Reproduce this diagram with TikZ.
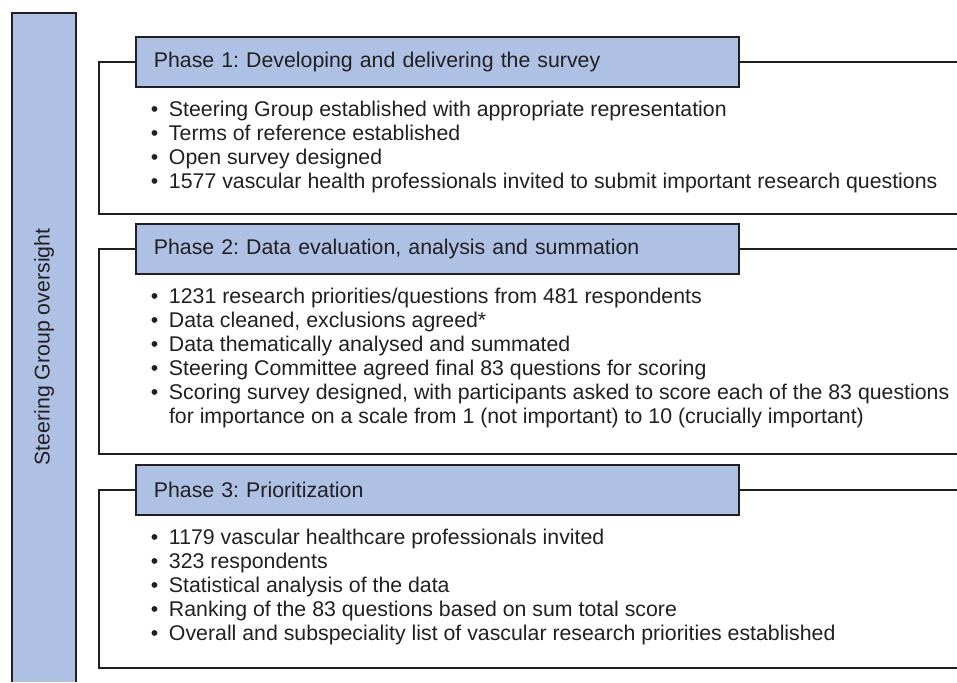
\documentclass[tikz,border=0pt]{standalone}
\usepackage{fontspec}
\setmainfont{Liberation Sans}
\usetikzlibrary{positioning}

\definecolor{phaseblue}{RGB}{174,193,229}
\definecolor{inkgray}{RGB}{35,31,32}

\newcommand\bul{\textbullet\hspace{0.5em}}
\frenchspacing

\tikzset{
  headbox/.style={draw=inkgray, fill=phaseblue, anchor=north west,
    text width=567pt, inner xsep=18pt, minimum height=50pt, align=left},
  itemlist/.style={anchor=north west, align=left, inner sep=0pt},
  frameline/.style={draw=inkgray, line width=1.8pt}
}

\begin{document}
\begin{tikzpicture}[x=1pt,y=-1pt, line width=1.8pt, text=inkgray,
    font=\fontsize{21.3}{24}\selectfont]
  \useasboundingbox (0,0) rectangle (957,682);

  % oversight bar on the left
  \fill[phaseblue] (12,13) rectangle (76,682);
  \draw[frameline] (12,682) -- (12,13) -- (76,13) -- (76,682);
  \node[rotate=90] (sg) at (44,347) {Steering Group oversight};

  % phase 1
  \node[headbox] (p1) at (135,36) {Phase 1: Developing and delivering the survey};
  \coordinate (p1r) at (957,214);
  \draw[frameline] (p1.east) -- (p1.east -| p1r);
  \draw[frameline] (p1.west) -- ++(-36,0) |- (p1r);
  \node[itemlist] (l1) at ([xshift=15pt,yshift=-10.5pt]p1.south west)
    {\strut\bul Steering Group established with appropriate representation\\
     \bul Terms of reference established\\
     \bul Open survey designed\\
     \bul 1577 vascular health professionals invited to submit important research questions};

  % phase 2
  \node[headbox] (p2) at (135,223) {Phase 2: Data evaluation, analysis and summation};
  \coordinate (p2r) at (957,454);
  \draw[frameline] (p2.east) -- (p2.east -| p2r);
  \draw[frameline] (p2.west) -- ++(-36,0) |- (p2r);
  \node[itemlist] (l2) at ([xshift=15pt,yshift=-10.5pt]p2.south west)
    {\strut\bul 1231 research priorities/questions from 481 respondents\\
     \bul Data cleaned, exclusions agreed*\\
     \bul Data thematically analysed and summated\\
     \bul Steering Committee agreed final 83 questions for scoring\\
     \bul Scoring survey designed, with participants asked to score each of the 83 questions\\
     \hphantom{\bul}for importance on a scale from 1 (not important) to 10 (crucially important)};

  % phase 3
  \node[headbox] (p3) at (135,464) {Phase 3: Prioritization};
  \coordinate (p3r) at (957,668);
  \draw[frameline] (p3.east) -- (p3.east -| p3r);
  \draw[frameline] (p3.west) -- ++(-36,0) |- (p3r);
  \node[itemlist] (l3) at ([xshift=15pt,yshift=-10.5pt]p3.south west)
    {\strut\bul 1179 vascular healthcare professionals invited\\
     \bul 323 respondents\\
     \bul Statistical analysis of the data\\
     \bul Ranking of the 83 questions based on sum total score\\
     \bul Overall and subspeciality list of vascular research priorities established};
\end{tikzpicture}
\end{document}
